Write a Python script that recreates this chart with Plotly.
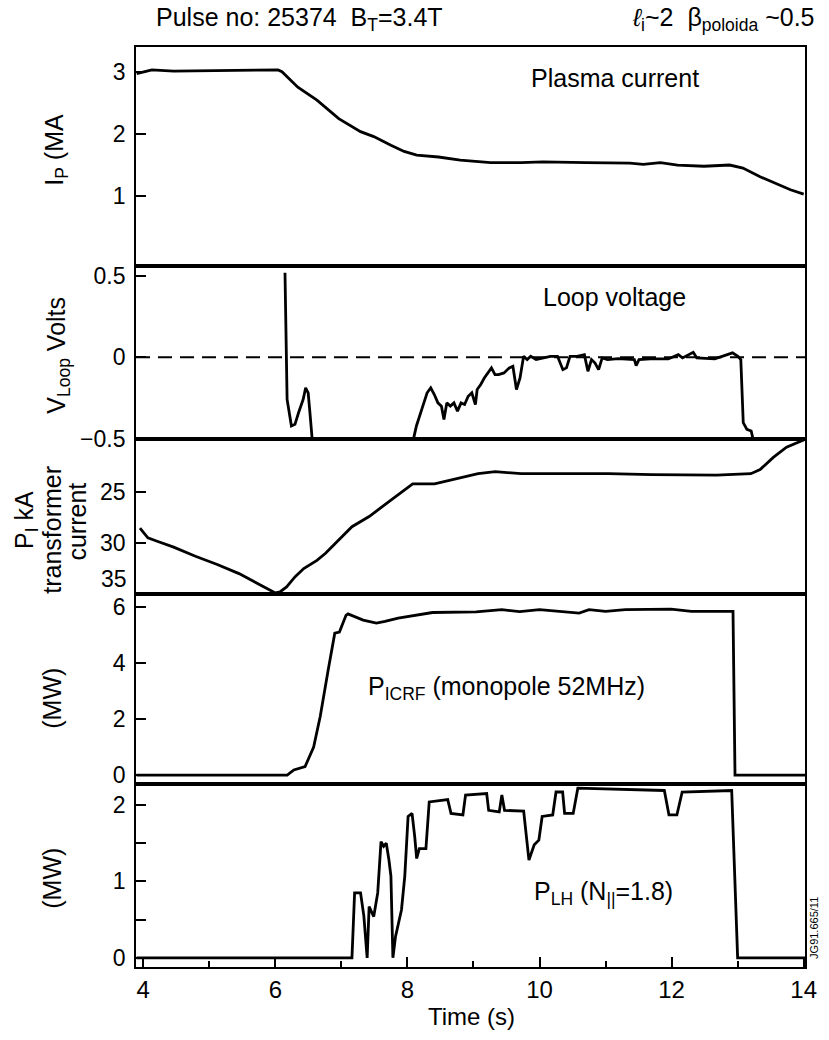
import plotly.graph_objects as go

# ---------------- data ----------------
ip_t = [3.9, 4.13, 4.46, 5.12, 5.6, 6.04, 6.1, 6.34, 6.63, 6.96, 7.29, 7.49, 7.75, 7.95, 8.14, 8.47,
        8.80, 9.26, 9.72, 10.05, 10.71, 11.37, 11.57, 11.83, 12.09, 12.49, 12.88, 13.08, 13.34, 13.61,
        13.80, 14.0]
ip_v = [2.98, 3.04, 3.02, 3.03, 3.03, 3.04, 3.01, 2.76, 2.55, 2.25, 2.04, 1.96, 1.82, 1.72, 1.66, 1.63,
        1.58, 1.54, 1.54, 1.55, 1.54, 1.53, 1.51, 1.54, 1.50, 1.48, 1.50, 1.45, 1.31, 1.18,
        1.10, 1.03]

vl_t = [6.146, 6.178, 6.243, 6.297, 6.351, 6.421, 6.459, 6.497, 6.524, 6.557, None,
        8.093, 8.136, 8.217, 8.298, 8.353, 8.407, 8.461, 8.515, 8.553, 8.596, 8.650, 8.704, 8.758,
        8.812, 8.866, 8.920, 8.975, 9.029, 9.056, 9.110, 9.164, 9.218, 9.272, 9.326, 9.380, 9.462,
        9.542, 9.597, 9.651, 9.705, 9.759, 9.813, 9.867, 9.948, 10.056, 10.165, 10.273, 10.354,
        10.408, 10.462, 10.570, 10.679, 10.733, 10.787, 10.841, 10.895, 10.949, 11.030, 11.193,
        11.301, 11.436, 11.463, 11.506, 11.679, 11.950, 12.101, 12.166, 12.328, 12.382, 12.653,
        12.842, 12.923, 13.004, 13.048, 13.085, 13.140, 13.205, 13.232]
vl_v = [0.52, -0.259, -0.422, -0.412, -0.341, -0.259, -0.188, -0.218, -0.341, -0.5, None,
        -0.5, -0.422, -0.320, -0.218, -0.188, -0.229, -0.280, -0.300, -0.382, -0.280, -0.300, -0.280,
        -0.331, -0.280, -0.290, -0.239, -0.218, -0.290, -0.198, -0.167, -0.127, -0.096, -0.065,
        -0.106, -0.106, -0.096, -0.065, -0.055, -0.198, -0.127, 0.006, -0.014, 0.006, -0.014,
        -0.004, 0.006, 0.006, -0.076, -0.065, 0.006, 0.006, 0.016, -0.086, -0.014, -0.035, -0.076,
        -0.004, -0.014, -0.008, -0.010, -0.014, -0.051, -0.014, -0.010, -0.010, 0.016, -0.004,
        0.031, -0.004, -0.010, 0.016, 0.027, 0.006, -0.014, -0.402, -0.443, -0.453, -0.5]

tr_t = [3.95, 4.07, 4.2, 4.46, 4.79, 5.12, 5.45, 5.78, 6.0, 6.07, 6.17, 6.3, 6.43, 6.63, 6.76, 7.16,
        7.42, 7.75, 8.08, 8.41, 8.74, 9.07, 9.33, 9.72, 10.38, 11.04, 11.7, 12.36, 12.68, 13.2,
        13.34, 13.54, 13.74, 14.0]
tr_v = [28.55, 29.5, 29.8, 30.4, 31.3, 32.1, 33.0, 34.1, 34.9, 34.8, 34.3, 33.3, 32.5, 31.7, 31.0,
        28.4, 27.4, 25.8, 24.2, 24.2, 23.7, 23.2, 23.0, 23.2, 23.2, 23.2, 23.3, 23.3, 23.35, 23.2,
        22.8, 21.6, 20.6, 19.9]

ic_t = [3.9, 6.18, 6.28, 6.45, 6.58, 6.68, 6.8, 6.9, 6.97, 7.07, 7.1, 7.2, 7.33, 7.53, 7.66, 7.86,
        8.12, 8.38, 9.04, 9.43, 9.7, 10.0, 10.6, 10.75, 11.0, 11.3, 11.99, 12.3, 12.84, 12.93,
        12.96, 14.02]
ic_v = [0.0, 0.0, 0.18, 0.3, 1.0, 2.1, 3.75, 5.06, 5.1, 5.7, 5.75, 5.65, 5.53, 5.42, 5.48, 5.6,
        5.7, 5.8, 5.82, 5.9, 5.83, 5.9, 5.78, 5.9, 5.84, 5.9, 5.92, 5.84, 5.84, 5.84,
        0.0, 0.0]

lh_t = [3.9, 7.16, 7.2, 7.29, 7.34, 7.39, 7.42, 7.49, 7.55, 7.6, 7.64, 7.68, 7.72, 7.75, 7.78, 7.82,
        7.91, 7.96, 8.01, 8.07, 8.11, 8.14, 8.18, 8.28, 8.33, 8.61, 8.66, 8.84, 8.88, 9.2, 9.23,
        9.39, 9.43, 9.47, 9.76, 9.84, 9.92, 9.99, 10.04, 10.2, 10.25, 10.35, 10.38, 10.51, 10.58,
        11.89, 11.96, 12.08, 12.16, 12.91, 13.0, 14.02]
lh_v = [0.0, 0.0, 0.85, 0.85, 0.55, 0.0, 0.67, 0.54, 0.85, 1.52, 1.46, 1.5, 1.28, 1.07, 0.0, 0.28,
        0.63, 1.07, 1.85, 1.89, 1.59, 1.30, 1.43, 1.43, 2.04, 2.07, 1.89, 1.87, 2.13, 2.15, 1.93,
        1.91, 2.13, 1.93, 1.92, 1.28, 1.48, 1.54, 1.85, 1.87, 2.17, 2.17, 1.89, 1.89, 2.22,
        2.19, 1.87, 1.87, 2.17, 2.19, 0.0, 0.0]

x_ticks = [4, 6, 8, 10, 12, 14]
ip_ticks = [1, 2, 3]
vl_ticks = [-0.5, 0, 0.5]
vl_ticktext = ["\u22120.5", "0", "0.5"]
tr_ticks = [25, 30, 35]
tr_ticktext = ["25", "30", ""]      # "35" is drawn slightly raised (see below)
ic_ticks = [0, 2, 4, 6]
lh_ticks = [0, 0.5, 1, 1.5, 2]
lh_ticktext = ["0", "", "1", "", "2"]

# ---------------- layout helpers ----------------
W, H = 829, 1040
L, R, T, B = 136, 18, 47, 73
PW, PH = W - L - R, H - T - B
TFONT = "Liberation Sans, Arial, sans-serif"


def px(x):
    return (x - L) / PW


def py(y):
    return (H - B - y) / PH


def dom(top, bottom):
    return [py(bottom), py(top)]


panels = [(47, 266), (266, 439), (439, 594), (594, 784), (784, 967)]

fig = go.Figure()
series = [(ip_t, ip_v), (vl_t, vl_v), (tr_t, tr_v), (ic_t, ic_v), (lh_t, lh_v)]
for i, (tx, vy) in enumerate(series, start=1):
    fig.add_trace(go.Scatter(
        x=tx, y=vy, mode="lines", line=dict(color="black", width=2.8),
        xaxis="x" if i == 1 else f"x{i}", yaxis="y" if i == 1 else f"y{i}",
        connectgaps=False, showlegend=False, hoverinfo="skip"))

xr = [3.89, 14.02]
yranges = [[-0.134, 3.41], [-0.502, 0.561], [35.0, 19.8], [-0.32, 6.46], [-0.12, 2.275]]
ytv = [ip_ticks, vl_ticks, tr_ticks, ic_ticks, lh_ticks]
ytt = [[str(v) for v in ip_ticks], vl_ticktext, tr_ticktext,
       [str(v) for v in ic_ticks], lh_ticktext]

layout = dict(
    width=W, height=H, margin=dict(l=L, r=R, t=T, b=B),
    paper_bgcolor="white", plot_bgcolor="white",
    font=dict(family=TFONT, color="black", size=23),
    showlegend=False,
)
for i in range(1, 6):
    xa = "xaxis" if i == 1 else f"xaxis{i}"
    ya = "yaxis" if i == 1 else f"yaxis{i}"
    yid = "y" if i == 1 else f"y{i}"
    xid = "x" if i == 1 else f"x{i}"
    xdict = dict(
        domain=[0, 1], anchor=yid, range=xr, showgrid=False, zeroline=False,
        showline=True, mirror=True, linecolor="black", linewidth=1.8,
    )
    if i == 5:
        xdict.update(
            tickmode="array", tickvals=x_ticks, ticktext=[str(v) for v in x_ticks],
            ticks="inside", ticklen=10, tickwidth=2, tickcolor="black",
            minor=dict(ticks="inside", ticklen=6, tickwidth=1.5, tickcolor="black", dtick=1, tick0=4),
            tickfont=dict(size=24, family=TFONT),
        )
    else:
        xdict.update(showticklabels=False, ticks="")
    if i != 1:
        xdict["matches"] = "x"
    layout[xa] = xdict
    layout[ya] = dict(
        domain=dom(*panels[i - 1]), anchor=xid, range=yranges[i - 1],
        showgrid=False, zeroline=False, showline=True, mirror=True,
        linecolor="black", linewidth=1.8,
        tickmode="array", tickvals=ytv[i - 1], ticktext=ytt[i - 1],
        ticks="inside", ticklen=10, tickwidth=2, tickcolor="black",
        tickfont=dict(size=23, family=TFONT), ticklabelstandoff=4,
    )

fig.update_layout(**layout)

# dashed zero reference line in the loop-voltage panel
fig.add_shape(type="line", xref="x2 domain", yref="y2", x0=0, x1=1, y0=0, y1=0,
              line=dict(color="black", width=2, dash="14px,8px"))

ann = []


def A(text, x, y, size=24, angle=0, xanchor="center", yanchor="middle", family=TFONT):
    ann.append(dict(text=text, x=px(x), y=py(y), xref="paper", yref="paper",
                    showarrow=False, textangle=angle, xanchor=xanchor, yanchor=yanchor,
                    borderpad=0, font=dict(size=size, family=family, color="black")))


A("Pulse no: 25374  B<sub>T</sub>=3.4T", 155, 19, size=25, xanchor="left")
A("<i>\u2113</i><sub>i</sub>~2  \u03b2<sub>poloida</sub> ~0.5", 822, 19, size=25, xanchor="right")
A("Plasma current", 619, 78, size=25)
A("Loop voltage", 619, 297, size=25)
A("P<sub>ICRF</sub> (monopole 52MHz)", 510, 688, size=25)
A("P<sub>LH</sub> (N<sub>||</sub>=1.8)", 608, 893, size=25)
A("35", 128, 579, size=23, xanchor="right")
A("I<sub>P</sub> (MA", 55, 150, size=25, angle=-90)
A("V<sub>Loop</sub> Volts", 57, 355, size=25, angle=-90)
A("P<sub>I</sub> kA", 25, 520, size=25, angle=-90)
A("transformer", 51, 530, size=25, angle=-90)
A("current", 76, 522, size=25, angle=-90)
A("(MW)", 51, 698, size=25, angle=-90)
A("(MW)", 51, 878, size=25, angle=-90)
A("JG91.665/11", 820, 928, size=11, angle=-90)
A("Time (s)", 475, 1016, size=24)

fig.update_layout(annotations=ann)
fig.write_html("out.html")
